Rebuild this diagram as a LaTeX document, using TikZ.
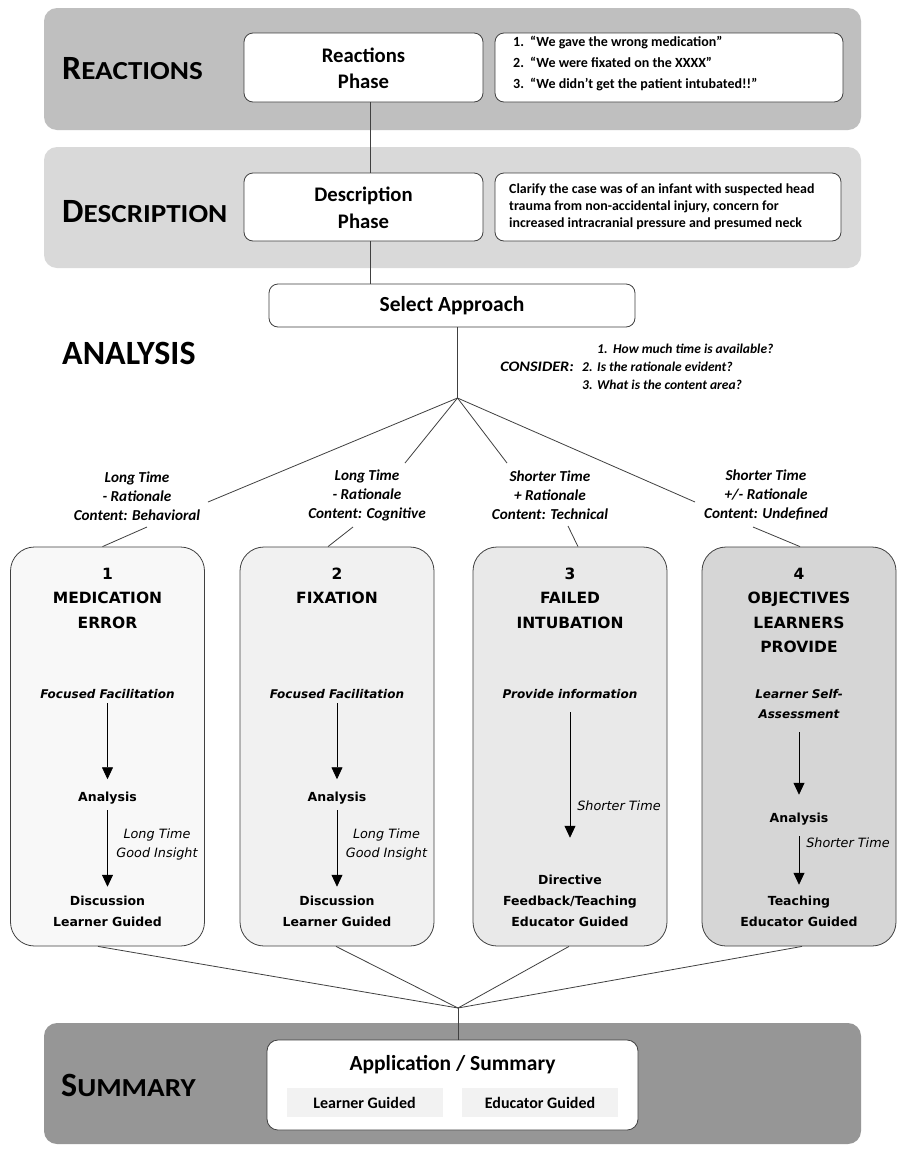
\documentclass[tikz,border=0pt]{standalone}
\usepackage{fontspec}
\setmainfont{Carlito}
\newfontfamily\vfont{DejaVu Sans}
\usetikzlibrary{arrows.meta}
\definecolor{bandA}{RGB}{191,191,191}
\definecolor{bandB}{RGB}{217,217,217}
\definecolor{bandC}{RGB}{150,150,150}
\definecolor{cardA}{RGB}{248,248,248}
\definecolor{cardB}{RGB}{241,241,241}
\definecolor{cardC}{RGB}{233,233,233}
\definecolor{cardD}{RGB}{214,214,214}
\definecolor{chipc}{RGB}{242,242,242}
\definecolor{edge}{RGB}{64,64,64}
\newcommand\fsz[2]{\fontsize{#1}{#2}\selectfont}
\newcommand\scaps[2]{{\fsz{34}{34}#1}{\fsz{26}{26}\scalebox{1.12}[1]{#2}}}
\tikzset{
  band/.style={fill=#1, draw=none, rounded corners=13pt},
  wbox/.style={draw=edge, fill=white, line width=0.8pt, rounded corners=9pt, inner sep=0pt},
  card/.style={draw=edge, fill=#1, line width=0.8pt, rounded corners=24pt, minimum width=194pt, minimum height=399pt, inner sep=0pt},
  chipbox/.style={fill=chipc, draw=none, inner sep=0pt, minimum width=156pt, minimum height=29pt, font=\bfseries\fsz{16}{16}},
  conn/.style={draw=edge, line width=0.8pt},
  arr/.style={draw=black, line width=0.8pt, -{Triangle[width=11pt,length=12pt]}},
  ttl/.style={inner sep=0pt, anchor=west, text height=22pt, text depth=0pt, font=\bfseries},
  phase/.style={inner sep=0pt, text height=13.3pt, text depth=0pt, font=\bfseries\fsz{20.7}{20.7}},
  qt/.style={inner sep=0pt, anchor=west, text height=9pt, text depth=0pt, font=\bfseries\fsz{14}{14}},
  dt/.style={inner sep=0pt, anchor=west, text height=9pt, text depth=0pt, font=\bfseries\fsz{13.9}{13.9}},
  cons/.style={inner sep=0pt, anchor=west, text height=8.7pt, text depth=0pt, font=\bfseries\itshape\fsz{13.5}{13.5}},
  lab/.style={inner sep=0pt, align=center, font=\bfseries\itshape\fsz{15.2}{19}},
  bt/.style={inner sep=0pt, text height=11.3pt, text depth=0pt, font=\vfont\bfseries\fsz{15.5}{15.5}},
  bi/.style={inner sep=0pt, text height=8.8pt, text depth=0pt, font=\vfont\bfseries\itshape\fsz{12}{12}},
  bb/.style={inner sep=0pt, text height=9.1pt, text depth=0pt, font=\vfont\bfseries\fsz{12.5}{12.5}},
  bs/.style={inner sep=0pt, text height=9.3pt, text depth=0pt, font=\vfont\itshape\fsz{12.8}{12.8}},
}
\begin{document}
\begin{tikzpicture}[x=1pt,y=-1pt]
\useasboundingbox (0,0) rectangle (897,1149);
\fill[white] (0,0) rectangle (897,1149);
% bands
\path[band=bandA] (44,8) rectangle (861,130);
\path[band=bandB] (44,147) rectangle (861,268);
\path[band=bandC] (44,1023) rectangle (861,1144);
% titles
\node[ttl] (tR) at (62,68) {\scaps{R}{EACTIONS}};
\node[ttl] (tD) at (62,211) {\scaps{D}{ESCRIPTION}};
\node[ttl] (tA) at (62,353) {\fsz{34}{34}ANALYSIS};
\node[ttl] (tS) at (61,1085) {\scaps{S}{UMMARY}};
% reactions
\node[wbox, minimum width=239pt, minimum height=69pt] (rp) at (363.5,67.5) {};
\node[phase] (rp1) at (363.5,56) {Reactions};
\node[phase] (rp2) at (363.5,82) {Phase};
\node[wbox, minimum width=348pt, minimum height=69pt] (rq) at (669,67.5) {};
\node[qt] (q1n) at (513,42) {1.};
\node[qt] (q1) at (530,42) {“We gave the wrong medication”};
\node[qt] (q2n) at (513,63) {2.};
\node[qt] (q2) at (530,63) {“We were fixated on the XXXX”};
\node[qt] (q3n) at (513,84) {3.};
\node[qt] (q3) at (530,84) {“We didn’t get the patient intubated!!”};
% description
\node[wbox, minimum width=239pt, minimum height=68pt] (dp) at (363.5,207) {};
\node[phase] (dp1) at (363.5,195) {Description};
\node[phase] (dp2) at (363.5,222) {Phase};
\node[wbox, minimum width=346pt, minimum height=68pt] (dq) at (668,207) {};
\node[dt] (d1) at (509,189) {Clarify the case was of an infant with suspected head};
\node[dt] (d2) at (509,206) {trauma from non-accidental injury, concern for};
\node[dt] (d3) at (509,223) {increased intracranial pressure and presumed neck};
% select approach
\node[wbox, minimum width=366pt, minimum height=43pt, font=\bfseries\fsz{21.5}{21.5}] (sa) at (452,305.5) {Select Approach};
\draw[conn] ([xshift=6.5pt]rp.south) -- ([xshift=6.5pt]dp.north);
\draw[conn] ([xshift=6.5pt]dp.south) -- ([xshift=6.5pt]dp.south |- sa.north);
% consider
\node[cons, anchor=east, font=\bfseries\itshape\fsz{14.5}{14.5}] (c0) at (574,367) {\scalebox{1.12}[1]{CONSIDER:}};
\node[cons] (c1n) at (597,349) {1.};
\node[cons] (c1) at (613,349) {How much time is available?};
\node[cons] (c2n) at (582,367) {2.};
\node[cons] (c2) at (597,367) {Is the rationale evident?};
\node[cons] (c3n) at (582,385) {3.};
\node[cons] (c3) at (597,385) {What is the content area?};
% fan
\coordinate (apex) at (457.5,398);
\draw[conn] ([xshift=5.5pt]sa.south) -- (apex);
\node[lab] (L1) at (137,496) {Long Time\\- Rationale\\Content: Behavioral};
\node[lab] (L2) at (367,495) {Long Time\\- Rationale\\Content: Cognitive};
\node[lab] (L3) at (550,495) {Shorter Time\\+ Rationale\\Content: Technical};
\node[lab] (L4) at (766,495) {Shorter Time\\+/- Rationale\\Content: Undefined};
\coordinate (f1) at (208,502);
\coordinate (f2) at (405,463);
\coordinate (f3) at (507,463);
\coordinate (f4) at (695,502);
\coordinate (g1) at (147,527);
\coordinate (g2) at (353,527);
\coordinate (g3) at (568,526);
\coordinate (g4) at (753,527);
\draw[conn] (apex) -- (f1);
\draw[conn] (apex) -- (f2);
\draw[conn] (apex) -- (f3);
\draw[conn] (apex) -- (f4);
% cards
\node[card=cardA] (B1) at (107.5,746.5) {};
\node[card=cardB] (B2) at (337,746.5) {};
\node[card=cardC] (B3) at (570,746.5) {};
\node[card=cardD] (B4) at (799,746.5) {};
\draw[conn] (g1) -- ([xshift=-5pt]B1.north);
\draw[conn] (g2) -- ([xshift=-9pt]B2.north);
\draw[conn] (g3) -- ([xshift=8pt]B3.north);
\draw[conn] (g4) -- ([xshift=1pt]B4.north);
% card 1
\node[bt] (n1) at (107.5,573.5) {1};
\node[bt] (h1a) at (107.5,598) {MEDICATION};
\node[bt] (h1b) at (107.5,622.5) {ERROR};
\node[bi] (ff1) at (107.5,694) {Focused Facilitation};
\node[bb] (an1) at (107.5,797) {Analysis};
\node[bb] (dc1) at (107.5,901) {Discussion};
\node[bb] (lg1) at (107.5,921.5) {Learner Guided};
\node[bs] (s1a) at (157,834) {Long Time};
\node[bs] (s1b) at (157,853) {Good Insight};
\draw[arr, shorten <=4.6pt, shorten >=13pt] (ff1) -- (an1);
\draw[arr, shorten <=8.5pt, shorten >=9.5pt] (an1) -- (dc1);
% card 2
\node[bt] (n2) at (337,573.5) {2};
\node[bt] (h2a) at (337,598) {FIXATION};
\node[bi] (ff2) at (337,694) {Focused Facilitation};
\node[bb] (an2) at (337,797) {Analysis};
\node[bb] (dc2) at (337,901) {Discussion};
\node[bb] (lg2) at (337,921.5) {Learner Guided};
\node[bs] (s2a) at (386.5,834) {Long Time};
\node[bs] (s2b) at (386.5,853) {Good Insight};
\draw[arr, shorten <=4.6pt, shorten >=13pt] (ff2) -- (an2);
\draw[arr, shorten <=8.5pt, shorten >=9.5pt] (an2) -- (dc2);
% card 3
\node[bt] (n3) at (570,573.5) {3};
\node[bt] (h3a) at (570,598) {FAILED};
\node[bt] (h3b) at (570,622.5) {INTUBATION};
\node[bi] (pi3) at (570,694) {Provide information};
\node[bb] (di3) at (570,880) {Directive};
\node[bb] (fb3) at (570,901) {Feedback/Teaching};
\node[bb] (eg3) at (570,921.5) {Educator Guided};
\node[bs] (s3) at (619,806) {Shorter Time};
\draw[arr, shorten <=13.6pt, shorten >=37.5pt] (pi3) -- (di3);
% card 4
\node[bt] (n4) at (799,573.5) {4};
\node[bt] (h4a) at (799,598) {OBJECTIVES};
\node[bt] (h4b) at (799,622.5) {LEARNERS};
\node[bt] (h4c) at (799,647) {PROVIDE};
\node[bi] (ls4) at (799,694) {Learner Self-};
\node[bi] (as4) at (799,714.5) {Assessment};
\node[bb] (an4) at (799,818) {Analysis};
\node[bb] (te4) at (799,901) {Teaching};
\node[bb] (eg4) at (799,921.5) {Educator Guided};
\node[bs] (s4) at (848,843) {Shorter Time};
\draw[arr, shorten <=13pt, shorten >=18.5pt] (as4) -- (an4);
\draw[arr, shorten <=13.5pt, shorten >=11.5pt] (an4) -- (te4);
% bottom fan
\coordinate (apex2) at (458,1008);
\draw[conn] ([xshift=-9.5pt]B1.south) -- (apex2);
\draw[conn] ([xshift=-1pt]B2.south) -- (apex2);
\draw[conn] ([xshift=-1pt]B3.south) -- (apex2);
\draw[conn] ([xshift=3pt]B4.south) -- (apex2);
% summary
\node[wbox, rounded corners=11pt, minimum width=371pt, minimum height=90pt] (app) at (452.5,1085) {};
\draw[conn] (apex2) -- (apex2 |- app.north);
\node[phase, font=\bfseries\fsz{21.5}{21.5}, text height=13.8pt] (apt) at (452.5,1064) {Application / Summary};
\node[chipbox] (lg) at (364.5,1102.5) {Learner Guided};
\node[chipbox] (eg) at (540,1102.5) {Educator Guided};
\end{tikzpicture}
\end{document}
